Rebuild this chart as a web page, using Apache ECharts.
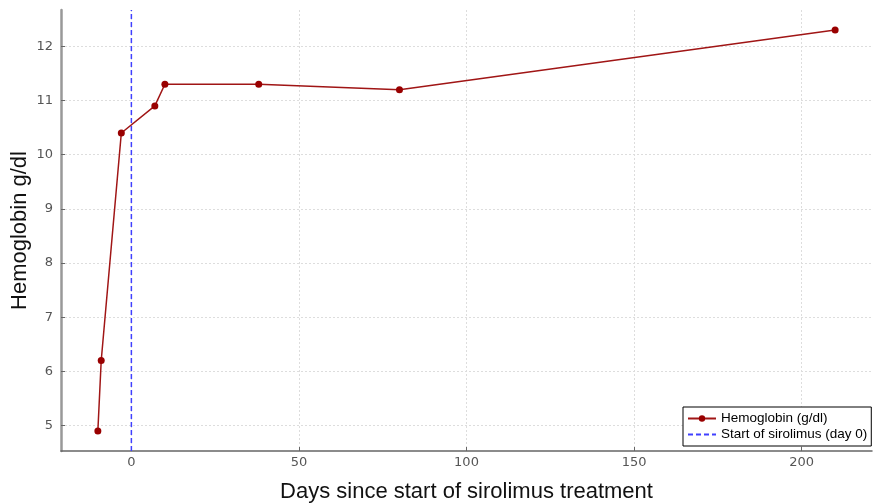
<!DOCTYPE html>
<html>
<head>
<meta charset="utf-8">
<script src="https://cdn.jsdelivr.net/npm/echarts@6/dist/echarts.min.js"></script>
<style>html,body{margin:0;padding:0;background:#fff;}#c{width:877px;height:503px;}</style>
</head>
<body>
<div id="c"></div>
<script>
const days = [-10, -9, -3, 7, 10, 38, 80, 210];
const hemoglobin = [4.9, 6.2, 10.4, 10.9, 11.3, 11.3, 11.2, 12.3];
const xTicks = [0, 50, 100, 150, 200];
const yTicks = [5, 6, 7, 8, 9, 10, 11, 12];
const xRange = [-21, 221];
const yRange = [4.53, 12.67];
const startDay = 0;

const chart = echarts.init(document.getElementById('c'));
chart.setOption({
  animation: false,
  backgroundColor: '#fff',
  grid: { left: 61, right: 5, top: 10, bottom: 52, containLabel: false, outerBoundsMode: 'none' },
  xAxis: {
    type: 'value', min: xRange[0], max: xRange[1],
    name: 'Days since start of sirolimus treatment',
    nameLocation: 'middle', nameGap: 30, nameMoveOverlap: false,
    nameTextStyle: { fontFamily: 'Liberation Sans', fontSize: 22, color: '#111' },
    axisLine: { show: true, onZero: false, lineStyle: { color: '#666', width: 1.5 } },
    axisTick: { show: true, inside: true, length: 4, customValues: xTicks, lineStyle: { color: '#666' } },
    axisLabel: { customValues: xTicks, color: '#555', fontFamily: 'DejaVu Sans', fontSize: 13, margin: 5 },
    splitLine: { show: true, lineStyle: { color: '#ddd', type: [2, 2], width: 1 } }
  },
  yAxis: {
    type: 'value', min: yRange[0], max: yRange[1],
    name: 'Hemoglobin g/dl',
    nameLocation: 'middle', nameGap: 30, nameMoveOverlap: false,
    nameTextStyle: { fontFamily: 'Liberation Sans', fontSize: 22, color: '#111' },
    axisLine: { show: true, onZero: false, lineStyle: { color: '#999', width: 2.5 } },
    axisTick: { show: true, inside: true, length: 4, customValues: yTicks, lineStyle: { color: '#666' } },
    axisLabel: { customValues: yTicks, color: '#555', fontFamily: 'DejaVu Sans', fontSize: 13, margin: 8 },
    splitLine: { show: true, lineStyle: { color: '#ddd', type: [2, 2], width: 1 } }
  },
  legend: {
    orient: 'vertical', left: 683, top: 407,
    itemWidth: 28, itemHeight: 8, itemGap: 1,
    padding: [4, 4, 4, 4],
    borderColor: '#000', borderWidth: 1, backgroundColor: '#fff', borderRadius: 0,
    textStyle: { fontFamily: 'Liberation Sans', fontSize: 13.5, color: '#000', lineHeight: 15 },
    data: [
      'Hemoglobin (g/dl)',
      { name: 'Start of sirolimus (day 0)', itemStyle: { opacity: 0 } }
    ]
  },
  series: [
    {
      name: 'Hemoglobin (g/dl)', type: 'line',
      data: days.map((d, i) => [d, hemoglobin[i]]),
      symbol: 'circle', symbolSize: 7,
      itemStyle: { color: '#990000' },
      lineStyle: { color: '#a01515', width: 1.5 },
      z: 5
    },
    {
      name: 'Start of sirolimus (day 0)', type: 'line',
      data: [[startDay, yRange[0]], [startDay, yRange[1]]],
      symbol: 'none',
      itemStyle: { color: '#4040ff' },
      lineStyle: { color: '#4040ff', type: [5, 3], width: 1.5 },
      z: 4
    }
  ]
});
</script>
</body>
</html>
